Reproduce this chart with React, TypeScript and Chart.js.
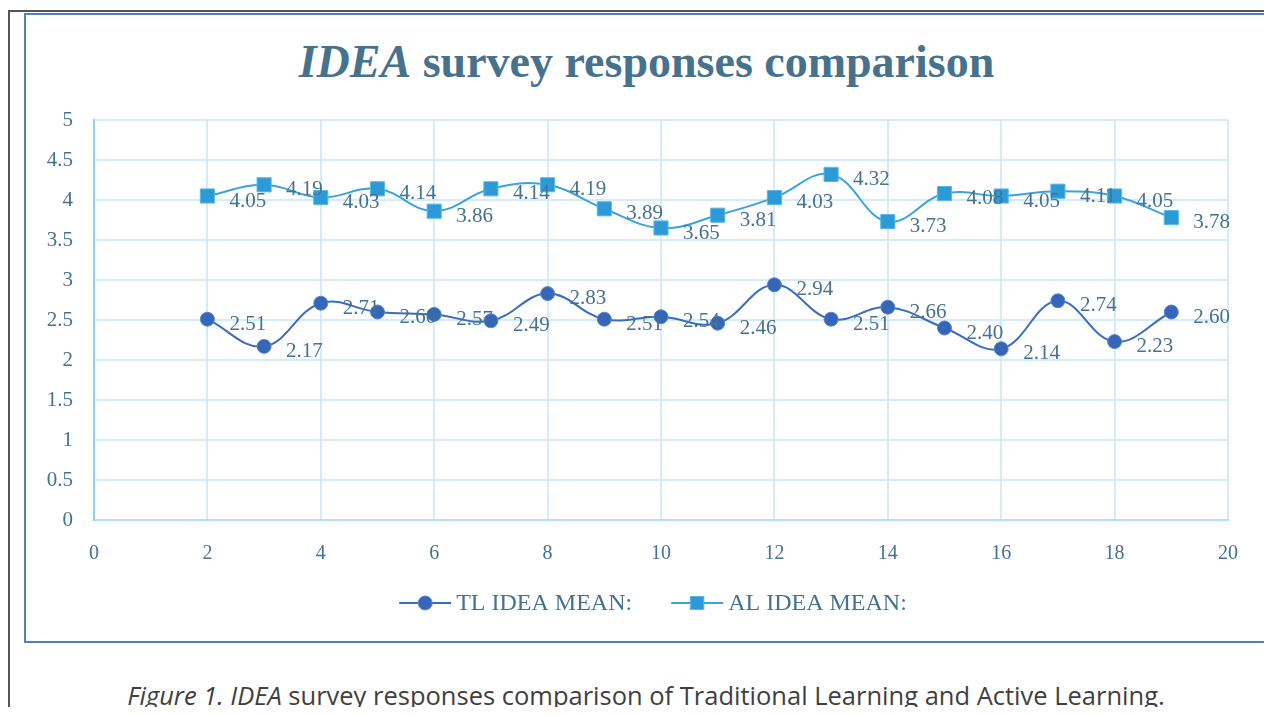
import React, { useEffect, useRef } from "react";
import { Chart, registerables } from "chart.js";

Chart.register(...registerables);

const xValues = [2, 3, 4, 5, 6, 7, 8, 9, 10, 11, 12, 13, 14, 15, 16, 17, 18, 19];
const tlMeans = [2.51, 2.17, 2.71, 2.6, 2.57, 2.49, 2.83, 2.51, 2.54, 2.46, 2.94, 2.51, 2.66, 2.4, 2.14, 2.74, 2.23, 2.6];
const alMeans = [4.05, 4.19, 4.03, 4.14, 3.86, 4.14, 4.19, 3.89, 3.65, 3.81, 4.03, 4.32, 3.73, 4.08, 4.05, 4.11, 4.05, 3.78];
const seriesNames = ["TL IDEA MEAN:", "AL IDEA MEAN:"];
const xMin = 0;
const xMax = 20;
const xStep = 2;
const yMin = 0;
const yMax = 5;
const yStep = 0.5;

const TL_COLOR = "#3a6cbf";
const TL_FILL = "#3566b8";
const TL_EDGE = "#5a86cc";
const AL_COLOR = "#3aa4dd";
const AL_FILL = "#2b9ad6";
const AL_EDGE = "#5cb8e8";
const TEXT_COLOR = "#44728f";
const GRID_COLOR = "#d3ecf8";
const SERIF = '"Liberation Serif", "DejaVu Serif", serif';

const valueLabels = {
  id: "valueLabels",
  afterDatasetsDraw(chart: any) {
    const ctx = chart.ctx;
    ctx.save();
    ctx.font = `21px ${SERIF}`;
    ctx.fillStyle = TEXT_COLOR;
    ctx.textAlign = "left";
    ctx.textBaseline = "middle";
    chart.data.datasets.forEach((ds: any, i: number) => {
      const meta = chart.getDatasetMeta(i);
      meta.data.forEach((pt: any, j: number) => {
        const v = ds.data[j].y as number;
        ctx.fillText(v.toFixed(2), pt.x + 22, pt.y + 5);
      });
    });
    ctx.restore();
  },
};

const lineLegend = {
  id: "lineLegend",
  afterDraw(chart: any) {
    const ctx = chart.ctx;
    const ca = chart.chartArea;
    ctx.save();
    ctx.font = `24px ${SERIF}`;
    ctx.textBaseline = "middle";
    ctx.textAlign = "left";
    const iconW = 52;
    const textGap = 5;
    const itemGap = 39;
    const items = chart.data.datasets.map((ds: any) => ({
      ds,
      w: iconW + textGap + ctx.measureText(ds.label).width,
    }));
    const total = items.reduce((a: number, b: any) => a + b.w, 0) + itemGap * (items.length - 1);
    let x = (ca.left + ca.right) / 2 - 8 - total / 2;
    const y = ca.bottom + 83;
    items.forEach((it: any) => {
      const ds = it.ds;
      ctx.strokeStyle = ds.borderColor;
      ctx.lineWidth = 2;
      ctx.beginPath();
      ctx.moveTo(x, y);
      ctx.lineTo(x + iconW, y);
      ctx.stroke();
      ctx.fillStyle = ds.pointBackgroundColor;
      ctx.strokeStyle = ds.pointBorderColor;
      ctx.lineWidth = 1;
      const cx = x + iconW / 2;
      if (ds.pointStyle === "circle") {
        ctx.beginPath();
        ctx.arc(cx, y, 7, 0, Math.PI * 2);
        ctx.fill();
        ctx.stroke();
      } else {
        ctx.fillRect(cx - 7, y - 7, 14, 14);
        ctx.strokeRect(cx - 6.5, y - 6.5, 13, 13);
      }
      ctx.fillStyle = TEXT_COLOR;
      ctx.fillText(ds.label, x + iconW + textGap, y + 1);
      x += it.w + itemGap;
    });
    ctx.restore();
  },
};

function ChartCanvas() {
  const ref = useRef<HTMLCanvasElement | null>(null);
  useEffect(() => {
    if (!ref.current) return;
    const chart = new Chart(ref.current, {
      type: "line",
      data: {
        datasets: [
          {
            label: seriesNames[0],
            data: xValues.map((x, i) => ({ x, y: tlMeans[i] })),
            borderColor: TL_COLOR,
            backgroundColor: TL_FILL,
            borderWidth: 2,
            tension: 0.4,
            pointStyle: "circle",
            pointRadius: 7,
            pointBackgroundColor: TL_FILL,
            pointBorderColor: TL_EDGE,
            pointBorderWidth: 1,
          },
          {
            label: seriesNames[1],
            data: xValues.map((x, i) => ({ x, y: alMeans[i] })),
            borderColor: AL_COLOR,
            backgroundColor: AL_FILL,
            borderWidth: 2,
            tension: 0.4,
            pointStyle: "rect",
            pointRadius: 10,
            pointBackgroundColor: AL_FILL,
            pointBorderColor: AL_EDGE,
            pointBorderWidth: 1,
          },
        ],
      },
      options: {
        animation: false,
        responsive: false,
        maintainAspectRatio: false,
        layout: { padding: { left: 0, right: 30, top: 20, bottom: 70 } },
        plugins: {
          title: { display: false },
          tooltip: { enabled: false },
          legend: { display: false },
        },
        scales: {
          x: {
            type: "linear",
            min: xMin,
            max: xMax,
            afterFit: (s: any) => {
              s.height = 50;
            },
            ticks: {
              stepSize: xStep,
              color: TEXT_COLOR,
              font: { family: SERIF, size: 20 },
              padding: 5,
              maxRotation: 0,
              callback: (v: any) => String(v),
            },
            grid: {
              color: GRID_COLOR,
              lineWidth: 2,
              drawTicks: true,
              tickLength: 17,
              tickColor: "rgba(0,0,0,0)",
            },
            border: { color: "#b3e0f5", width: 2 },
          },
          y: {
            type: "linear",
            min: yMin,
            max: yMax,
            afterFit: (s: any) => {
              s.width = 68;
            },
            ticks: {
              stepSize: yStep,
              color: TEXT_COLOR,
              font: { family: SERIF, size: 21 },
              padding: 5,
              crossAlign: "near",
              callback: (v: any) => String(v),
            },
            grid: {
              color: GRID_COLOR,
              lineWidth: 2,
              drawTicks: true,
              tickLength: 16,
              tickColor: "rgba(0,0,0,0)",
            },
            border: { color: "#8fd3f0", width: 2 },
          },
        },
      },
      plugins: [valueLabels, lineLegend],
    } as any);
    return () => chart.destroy();
  }, []);
  return (
    <canvas
      ref={ref}
      width={1232}
      height={540}
      style={{ position: "absolute", left: 18, top: 92, width: 1232, height: 540 }}
    />
  );
}

export default function App() {
  return (
    <div style={{ position: "relative", width: 1256, height: 699, overflow: "visible" }}>
      <div
        style={{
          position: "absolute",
          left: 0,
          top: 2,
          width: 1270,
          height: 720,
          borderTop: "2px solid #555",
          borderLeft: "2px solid #555",
          boxSizing: "border-box",
        }}
      />
      <div
        style={{
          position: "absolute",
          left: 16,
          top: 5,
          width: 1245,
          height: 630,
          border: "2px solid #4f80c1",
          background: "#fff",
          boxSizing: "border-box",
        }}
      />
      <div
        style={{
          position: "absolute",
          left: 16,
          top: 29,
          width: 1245,
          textAlign: "center",
          fontFamily: SERIF,
          fontWeight: "bold",
          fontSize: 46,
          lineHeight: "50px",
          color: "#46728e",
        }}
      >
        <i>IDEA</i> survey responses comparison
      </div>
      <ChartCanvas />
      <div
        style={{
          position: "absolute",
          left: 10,
          top: 671,
          width: 1256,
          textAlign: "center",
          fontFamily: '"Open Sans", "Noto Sans", sans-serif',
          fontSize: 25.5,
          lineHeight: "32px",
          color: "#3f3f3f",
          whiteSpace: "nowrap",
        }}
      >
        <i>Figure 1. IDEA</i> survey responses comparison of Traditional Learning and Active Learning.
      </div>
    </div>
  );
}
